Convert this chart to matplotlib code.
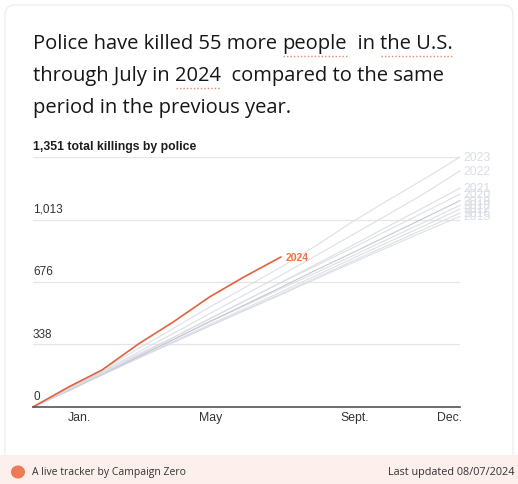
import matplotlib
matplotlib.use("Agg")
import matplotlib.pyplot as plt
from matplotlib.lines import Line2D
from matplotlib.patches import FancyBboxPatch, Rectangle, Circle

# cumulative killings at the end of each month (day of year)
month_end_days = [0, 31, 59, 90, 120, 151, 181, 212, 243, 273, 304, 334, 365]

past_years = {
    "2015": [0, 92, 174, 264, 349, 437, 521, 607, 695, 779, 865, 947, 1030],
    "2016": [0, 88, 173, 263, 349, 439, 524, 612, 702, 788, 876, 960, 1048],
    "2017": [0, 90, 174, 266, 354, 446, 532, 622, 714, 802, 892, 978, 1070],
    "2018": [0, 95, 183, 275, 365, 459, 547, 639, 729, 817, 909, 997, 1090],
    "2019": [0, 92, 177, 272, 364, 462, 552, 647, 743, 833, 928, 1020, 1115],
    "2020": [0, 100, 188, 286, 376, 478, 574, 672, 767, 859, 957, 1052, 1150],
    "2021": [0, 95, 180, 280, 375, 475, 573, 673, 775, 873, 978, 1078, 1183],
    "2022": [0, 100, 192, 297, 397, 505, 607, 712, 822, 930, 1042, 1152, 1276],
    "2023": [0, 105, 200, 315, 425, 540, 645, 756, 876, 1001, 1119, 1231, 1351],
}

days_2024 = [0, 31, 59, 90, 120, 151, 181, 212]
values_2024 = [0, 110, 200, 340, 460, 595, 705, 811]

y_ticks = [0, 338, 676, 1013, 1351]
y_tick_labels = ["0", "338", "676", "1,013"]
x_tick_days = [40, 152, 275, 356]
x_tick_labels = ["Jan.", "May", "Sept.", "Dec."]

W, H = 518, 485
fig = plt.figure(figsize=(W / 100, H / 100), dpi=100)
fig.patch.set_facecolor("white")

def fx(px):
    return px / W

def fy(py):
    return 1 - py / H

# card outline and footer band (kept behind the axes)
fig.patches.append(FancyBboxPatch((fx(5), fy(480)), fx(508), fy(6) - fy(480),
                                  boxstyle="round,pad=0,rounding_size=0.02",
                                  transform=fig.transFigure, facecolor="white",
                                  edgecolor="#efefef", lw=1, zorder=-2))
fig.patches.append(Rectangle((0, 0), 1, fy(456), transform=fig.transFigure,
                             facecolor="#fcefec", edgecolor="none", zorder=-1))
fig.patches.append(Circle((fx(18), fy(473)), 7 / W, transform=fig.transFigure,
                          facecolor="#ec7a55", edgecolor="none", zorder=2))
fig.text(fx(32), fy(473), "A live tracker by Campaign Zero", family="Open Sans",
         fontsize=7.5, color="#333333", va="center", ha="left", zorder=3)
fig.text(fx(515), fy(473), "Last updated 08/07/2024", family="Open Sans",
         fontsize=7.8, color="#333333", va="center", ha="right", zorder=3)

# headline, built piece by piece so some words get a dotted underline
renderer = fig.canvas.get_renderer()
title_lines = [
    [("Police have killed 55 more ", False), ("people", True), ("  in ", False), ("the U.S.", True)],
    [("through July in ", False), ("2024", True), ("  compared to the same", False)],
    [("period in the previous year.", False)],
]
baselines = [49, 81, 113]
for pieces, base in zip(title_lines, baselines):
    x = fx(33)
    for txt, underline in pieces:
        t = fig.text(x, fy(base), txt, family="Open Sans", fontsize=14.5,
                     color="#161616", va="baseline", ha="left")
        bb = t.get_window_extent(renderer)
        w = bb.width / W
        if underline:
            fig.lines.append(Line2D([x + 0.002, x + w], [fy(base + 8), fy(base + 8)],
                                    transform=fig.transFigure, color="#e9886c",
                                    lw=1.0, linestyle=(0, (1, 1.5))))
        x += w

# chart
ax = fig.add_axes([fx(33), fy(408), fx(460) - fx(33), fy(158) - fy(408)])
ax.patch.set_alpha(0)
ax.set_xlim(0, 365)
ax.set_ylim(0, 1351)
for s in ["top", "right", "left"]:
    ax.spines[s].set_visible(False)
ax.spines["bottom"].set_color("#555555")
ax.spines["bottom"].set_linewidth(1.2)
ax.set_yticks(y_ticks)
ax.set_yticklabels([])
ax.tick_params(axis="y", length=0)
ax.grid(axis="y", color="#e6e6e6", lw=0.9)
ax.set_axisbelow(True)
ax.set_xticks(x_tick_days)
ax.set_xticklabels(x_tick_labels, family="Liberation Sans", fontsize=8.8, color="#333333")
ax.tick_params(axis="x", length=0, pad=3)

for val, lab in zip(y_ticks[:-1], y_tick_labels):
    ax.text(0, val + 25, lab, family="Liberation Sans", fontsize=8.5,
            color="#333333", ha="left", va="bottom")
ax.text(0, 1351 + 25, "1,351 total killings by police", family="Liberation Sans",
        fontsize=8.8, fontweight="bold", color="#1c1c1c", ha="left", va="bottom")

for year, vals in past_years.items():
    col = "#bfc3ce" if year == "2019" else "#d9dce3"
    ax.plot(month_end_days, vals, color=col, lw=0.8, alpha=0.9, clip_on=False)
    ax.text(368, vals[-1], year, family="Liberation Sans", fontsize=8.8,
            color="#dadde5", ha="left", va="center", clip_on=False)

ax.plot(days_2024, values_2024, color="#e2623d", lw=1.2, clip_on=False,
        solid_capstyle="round", solid_joinstyle="round")
ax.text(days_2024[-1] + 4, values_2024[-1], "2024", family="Liberation Sans",
        fontsize=7.5, fontweight="bold", color="#e8744f", ha="left", va="center")

fig.savefig("out.png", dpi=100)
